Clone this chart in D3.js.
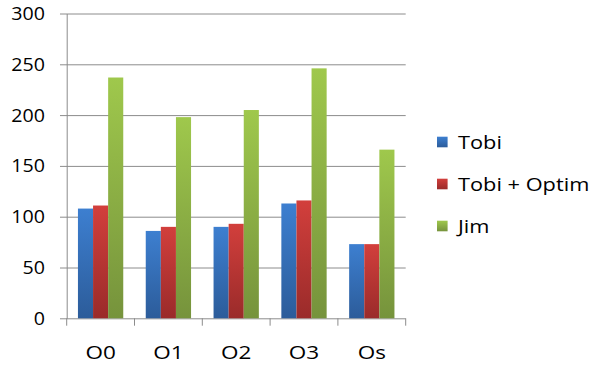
<!DOCTYPE html>
<html>
<head>
<meta charset="utf-8">
<script src="https://cdn.jsdelivr.net/npm/d3@7"></script>
<style>
  html, body { margin: 0; padding: 0; background: #fff; }
  svg { display: block; }
  text { font-family: "Open Sans", Lato, sans-serif; font-size: 18px; fill: #000; }
</style>
</head>
<body>
<svg id="chart" width="606" height="365"></svg>
<script>
// Compiler build settings and measured results per configuration
const categories = ["O0", "O1", "O2", "O3", "Os"];
const seriesNames = ["Tobi", "Tobi + Optim", "Jim"];
const tobi = [108, 86, 90, 113, 73];
const tobiOptim = [111, 90, 93, 116, 73];
const jim = [237, 198, 205, 246, 166];
const yTicks = [0, 50, 100, 150, 200, 250, 300];

const seriesValues = [tobi, tobiOptim, jim];
const colorStops = [
  ["#3d7fd0", "#2c5c9a"],
  ["#d23f3c", "#9a2b2a"],
  ["#9fc84c", "#76933c"]
];

const svg = d3.select("#chart");
const plotLeft = 66.7, plotRight = 405.7, plotTop = 13.5, plotBottom = 318.3;
const gridColor = "#8c8c8c";

const y = d3.scaleLinear().domain([0, 300]).range([plotBottom, plotTop]);
const x = d3.scaleBand().domain(categories).range([plotLeft, plotRight]).padding(0);
const xs = d3.scaleBand().domain(seriesNames).range([0, x.bandwidth()])
  .paddingInner(0).paddingOuter(0.745);

// Vertical gradients for the bars
const defs = svg.append("defs");
colorStops.forEach((c, i) => {
  const g = defs.append("linearGradient").attr("id", "grad" + i)
    .attr("x1", 0).attr("y1", 0).attr("x2", 0).attr("y2", 1);
  g.append("stop").attr("offset", "0%").attr("stop-color", c[0]);
  g.append("stop").attr("offset", "100%").attr("stop-color", c[1]);
});

// Y axis: gridlines extend left past the axis as tick marks; labels drawn separately
const yAxis = d3.axisLeft(y).tickValues(yTicks)
  .tickSize(-(plotRight - plotLeft)).tickSizeOuter(0).tickFormat("");
svg.append("g").attr("transform", `translate(${plotLeft},0)`)
  .call(yAxis)
  .call(g => g.select(".domain").attr("stroke", gridColor))
  .call(g => g.selectAll(".tick line").attr("stroke", gridColor).attr("x1", -6.7));

// Y labels, widened slightly to match the wide label face
svg.append("g").selectAll("g").data(yTicks).join("g")
  .attr("transform", d => `translate(45,${y(d)}) scale(1.09,1)`)
  .append("text").attr("text-anchor", "end").attr("dy", "0.36em").text(d => d);

// X axis: category boundary ticks below the baseline
const boundaries = categories.map(c => x(c)).concat([plotRight]);
svg.append("g").selectAll("line").data(boundaries).join("line")
  .attr("x1", d => d).attr("x2", d => d)
  .attr("y1", plotBottom).attr("y2", plotBottom + 7.4)
  .attr("stroke", gridColor);

// Bars
const groups = svg.append("g").selectAll("g").data(categories).join("g")
  .attr("transform", c => `translate(${x(c)},0)`);
groups.selectAll("rect")
  .data((c, ci) => seriesNames.map((s, si) => ({ s, si, v: seriesValues[si][ci] })))
  .join("rect")
  .attr("x", d => xs(d.s))
  .attr("width", xs.bandwidth())
  .attr("y", d => y(d.v))
  .attr("height", d => y(0) - y(d.v))
  .attr("fill", d => `url(#grad${d.si})`);

// Category labels
svg.append("g").selectAll("g").data(categories).join("g")
  .attr("transform", c => `translate(${x(c) + x.bandwidth() / 2},359.3) scale(1.25,1)`)
  .append("text").attr("text-anchor", "middle").text(c => c);

// Legend
const legend = svg.append("g").selectAll("g").data(seriesNames).join("g")
  .attr("transform", (d, i) => `translate(437,${149.3 + i * 42})`);
legend.append("rect").attr("x", 0).attr("y", -12.6).attr("width", 10.6).attr("height", 10.6)
  .attr("fill", (d, i) => `url(#grad${i})`);
legend.append("g").attr("transform", "translate(21,0) scale(1.21,1)")
  .append("text").text(d => d);
</script>
</body>
</html>
